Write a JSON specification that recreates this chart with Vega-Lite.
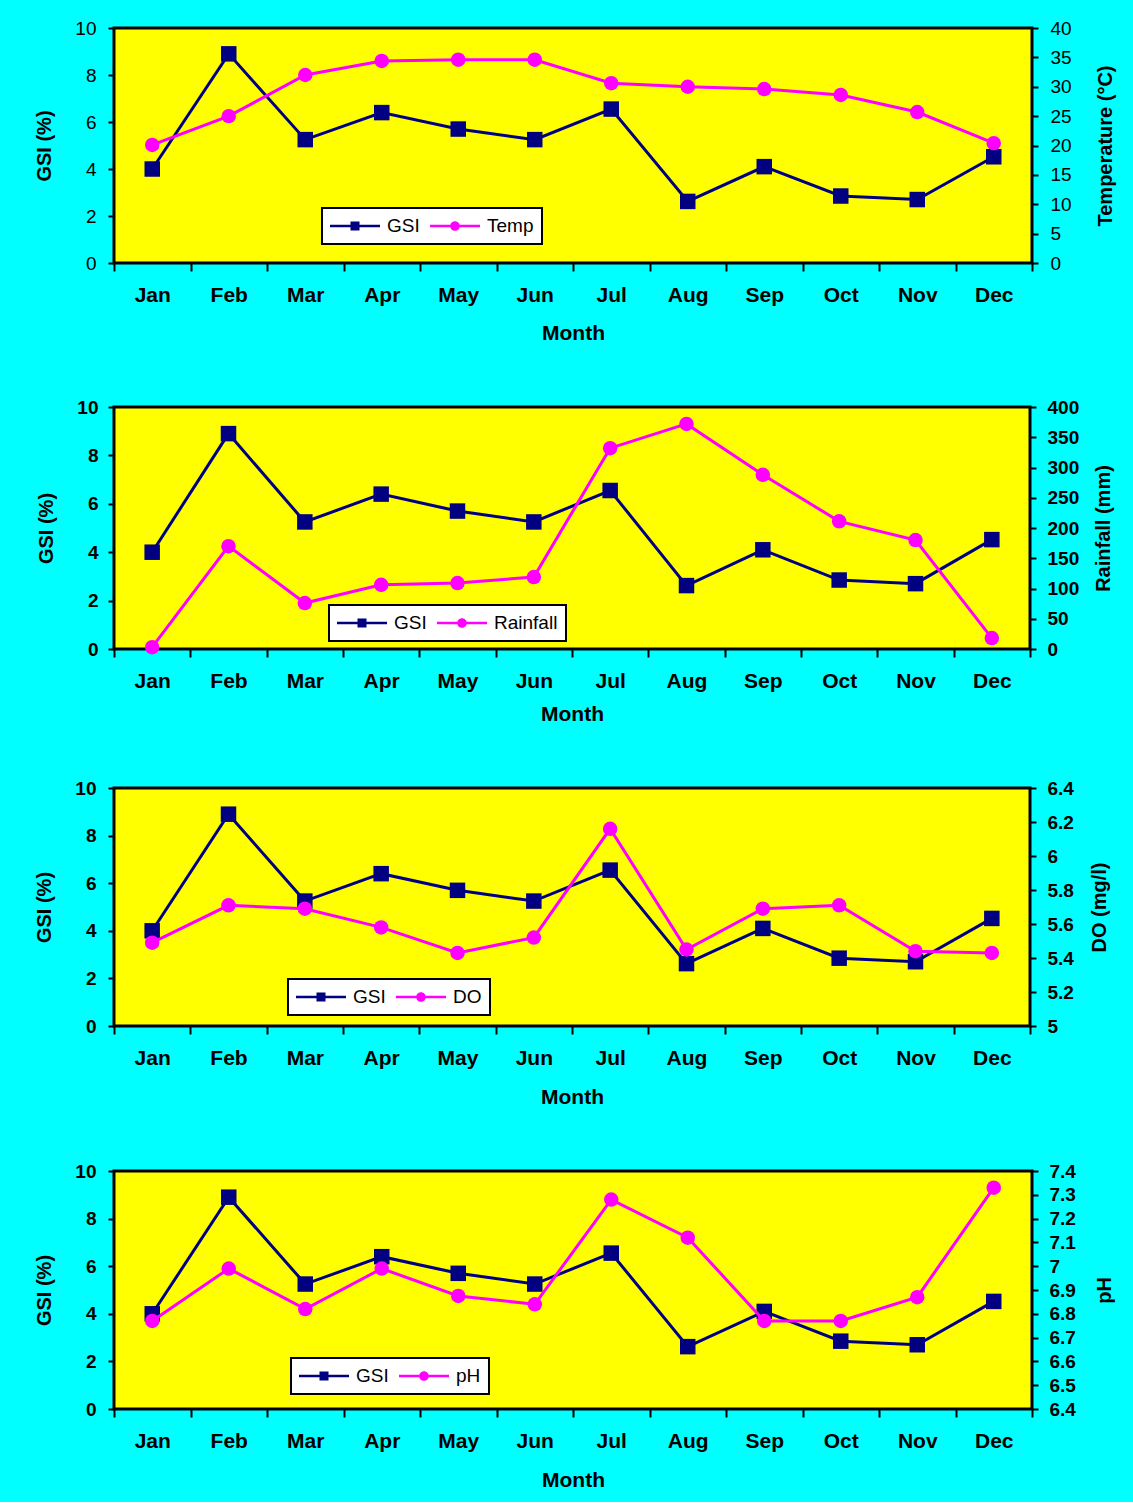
{
  "$schema": "https://vega.github.io/schema/vega-lite/v6.json",
  "background": "#00FFFF",
  "padding": {"top": 17, "left": 33, "right": 16, "bottom": 10},
  "spacing": 51,
  "resolve": {"scale": {"color": "independent"}, "legend": {"color": "independent"}},
  "datasets": {
    "d": [
      {"month": "Jan", "GSI": 4.0, "Temp": 20.1, "Rainfall": 3, "DO": 5.49, "pH": 6.77},
      {"month": "Feb", "GSI": 8.9, "Temp": 25.0, "Rainfall": 170, "DO": 5.71, "pH": 6.99},
      {"month": "Mar", "GSI": 5.25, "Temp": 32.0, "Rainfall": 76, "DO": 5.69, "pH": 6.82},
      {"month": "Apr", "GSI": 6.4, "Temp": 34.4, "Rainfall": 106, "DO": 5.58, "pH": 6.99},
      {"month": "May", "GSI": 5.7, "Temp": 34.6, "Rainfall": 109, "DO": 5.43, "pH": 6.875},
      {"month": "Jun", "GSI": 5.25, "Temp": 34.6, "Rainfall": 119, "DO": 5.52, "pH": 6.84},
      {"month": "Jul", "GSI": 6.55, "Temp": 30.6, "Rainfall": 332, "DO": 6.16, "pH": 7.28},
      {"month": "Aug", "GSI": 2.62, "Temp": 30.0, "Rainfall": 372, "DO": 5.45, "pH": 7.12},
      {"month": "Sep", "GSI": 4.1, "Temp": 29.6, "Rainfall": 288, "DO": 5.69, "pH": 6.77},
      {"month": "Oct", "GSI": 2.85, "Temp": 28.6, "Rainfall": 211, "DO": 5.71, "pH": 6.77},
      {"month": "Nov", "GSI": 2.7, "Temp": 25.7, "Rainfall": 180, "DO": 5.44, "pH": 6.87},
      {"month": "Dec", "GSI": 4.52, "Temp": 20.4, "Rainfall": 18, "DO": 5.43, "pH": 7.33}
    ]
  },
  "data": {"name": "d"},
  "config": {
    "view": {"fill": "#FFFF00", "stroke": "black", "strokeWidth": 3},
    "axis": {
      "domain": false, "grid": false,
      "labelFont": "Liberation Sans", "labelColor": "black", "labelFontSize": 19,
      "tickColor": "black", "tickWidth": 2,
      "titleFont": "Liberation Sans", "titleFontWeight": "bold", "titleFontSize": 20, "titleColor": "black"
    },
    "axisX": {"labelFontWeight": "bold", "labelFontSize": 21, "tickSize": 8, "labelPadding": 13, "titleFontSize": 21, "labelAngle": 0},
    "axisY": {"tickSize": 6},
    "legend": {
      "orient": "none", "direction": "horizontal", "fillColor": "white", "strokeColor": "black",
      "padding": 8, "labelFont": "Liberation Sans", "labelFontSize": 19, "labelColor": "black",
      "labelOffset": 37, "columnPadding": 10, "symbolSize": 400, "symbolStrokeWidth": 0
    }
  },
  "vconcat": [
    {
      "width": 918, "height": 235,
      "layer": [
        {
          "mark": {"type": "line", "strokeWidth": 3, "point": {"shape": "square", "filled": true, "size": 240, "opacity": 1}},
          "encoding": {
            "x": {"field": "month", "type": "ordinal", "sort": ["Jan","Feb","Mar","Apr","May","Jun","Jul","Aug","Sep","Oct","Nov","Dec"], "scale": {"type": "band", "paddingInner": 0, "paddingOuter": 0}, "axis": {"title": "Month", "tickBand": "extent", "titlePadding": 17}},
            "y": {"field": "GSI", "type": "quantitative", "scale": {"domain": [0, 10], "nice": false}, "axis": {"title": "GSI (%)", "values": [0,2,4,6,8,10], "labelFontWeight": "normal", "labelPadding": 12, "titlePadding": 20}},
            "color": {"datum": "GSI", "scale": {"domain": ["GSI", "Temp"], "range": ["#000080", "#FF00FF"]},
              "legend": {"title": null, "legendX": 208, "legendY": 180,
                "encode": {
                  "legend": {"update": {"strokeWidth": {"value": 2}}},
                  "symbols": {"update": {
                    "shape": {"signal": "datum.value === 'GSI' ? 'M-1,-0.12H4V0.12H-1Z M1.05,-0.45H1.95V0.45H1.05Z' : 'M-1,-0.12H4V0.12H-1Z M1.02,0A0.48,0.48 0 1,1 1.98,0A0.48,0.48 0 1,1 1.02,0Z'"},
                    "fill": {"signal": "datum.value === 'GSI' ? '#000080' : '#FF00FF'"},
                    "fillOpacity": {"value": 1}, "opacity": {"value": 1}, "strokeWidth": {"value": 0}
                  }}
                }}}
          }
        },
        {
          "mark": {"type": "line", "strokeWidth": 3, "point": {"shape": "circle", "filled": true, "size": 210, "opacity": 1}},
          "encoding": {
            "x": {"field": "month", "type": "ordinal", "sort": ["Jan","Feb","Mar","Apr","May","Jun","Jul","Aug","Sep","Oct","Nov","Dec"]},
            "y": {"field": "Temp", "type": "quantitative", "scale": {"domain": [0, 40], "nice": false}, "axis": {"orient": "right", "title": "Temperature (°C)", "titleAngle": 270, "titleBaseline": "top", "values": [0,5,10,15,20,25,30,35,40], "labelFontWeight": "normal", "labelPadding": 12, "titlePadding": 24}},
            "color": {"datum": "Temp"}
          }
        }
      ],
      "resolve": {"scale": {"y": "independent"}}
    },
    {
      "width": 916, "height": 242,
      "layer": [
        {
          "mark": {"type": "line", "strokeWidth": 3, "point": {"shape": "square", "filled": true, "size": 240, "opacity": 1}},
          "encoding": {
            "x": {"field": "month", "type": "ordinal", "sort": ["Jan","Feb","Mar","Apr","May","Jun","Jul","Aug","Sep","Oct","Nov","Dec"], "scale": {"type": "band", "paddingInner": 0, "paddingOuter": 0}, "axis": {"title": "Month", "tickBand": "extent", "titlePadding": 12}},
            "y": {"field": "GSI", "type": "quantitative", "scale": {"domain": [0, 10], "nice": false}, "axis": {"title": "GSI (%)", "values": [0,2,4,6,8,10], "labelFontWeight": "bold", "labelPadding": 10, "titlePadding": 20}},
            "color": {"datum": "GSI", "scale": {"domain": ["GSI", "Rainfall"], "range": ["#000080", "#FF00FF"]},
              "legend": {"title": null, "legendX": 215, "legendY": 198,
                "encode": {
                  "legend": {"update": {"strokeWidth": {"value": 2}}},
                  "symbols": {"update": {
                    "shape": {"signal": "datum.value === 'GSI' ? 'M-1,-0.12H4V0.12H-1Z M1.05,-0.45H1.95V0.45H1.05Z' : 'M-1,-0.12H4V0.12H-1Z M1.02,0A0.48,0.48 0 1,1 1.98,0A0.48,0.48 0 1,1 1.02,0Z'"},
                    "fill": {"signal": "datum.value === 'GSI' ? '#000080' : '#FF00FF'"},
                    "fillOpacity": {"value": 1}, "opacity": {"value": 1}, "strokeWidth": {"value": 0}
                  }}
                }}}
          }
        },
        {
          "mark": {"type": "line", "strokeWidth": 3, "point": {"shape": "circle", "filled": true, "size": 210, "opacity": 1}},
          "encoding": {
            "x": {"field": "month", "type": "ordinal", "sort": ["Jan","Feb","Mar","Apr","May","Jun","Jul","Aug","Sep","Oct","Nov","Dec"]},
            "y": {"field": "Rainfall", "type": "quantitative", "scale": {"domain": [0, 400], "nice": false}, "axis": {"orient": "right", "title": "Rainfall (mm)", "titleAngle": 270, "titleBaseline": "top", "values": [0,50,100,150,200,250,300,350,400], "labelFontWeight": "bold", "labelPadding": 11, "titlePadding": 15}},
            "color": {"datum": "Rainfall"}
          }
        }
      ],
      "resolve": {"scale": {"y": "independent"}}
    },
    {
      "width": 916, "height": 238,
      "layer": [
        {
          "mark": {"type": "line", "strokeWidth": 3, "point": {"shape": "square", "filled": true, "size": 240, "opacity": 1}},
          "encoding": {
            "x": {"field": "month", "type": "ordinal", "sort": ["Jan","Feb","Mar","Apr","May","Jun","Jul","Aug","Sep","Oct","Nov","Dec"], "scale": {"type": "band", "paddingInner": 0, "paddingOuter": 0}, "axis": {"title": "Month", "tickBand": "extent", "titlePadding": 18}},
            "y": {"field": "GSI", "type": "quantitative", "scale": {"domain": [0, 10], "nice": false}, "axis": {"title": "GSI (%)", "values": [0,2,4,6,8,10], "labelFontWeight": "bold", "labelPadding": 12, "titlePadding": 20}},
            "color": {"datum": "GSI", "scale": {"domain": ["GSI", "DO"], "range": ["#000080", "#FF00FF"]},
              "legend": {"title": null, "legendX": 174, "legendY": 191,
                "encode": {
                  "legend": {"update": {"strokeWidth": {"value": 2}}},
                  "symbols": {"update": {
                    "shape": {"signal": "datum.value === 'GSI' ? 'M-1,-0.12H4V0.12H-1Z M1.05,-0.45H1.95V0.45H1.05Z' : 'M-1,-0.12H4V0.12H-1Z M1.02,0A0.48,0.48 0 1,1 1.98,0A0.48,0.48 0 1,1 1.02,0Z'"},
                    "fill": {"signal": "datum.value === 'GSI' ? '#000080' : '#FF00FF'"},
                    "fillOpacity": {"value": 1}, "opacity": {"value": 1}, "strokeWidth": {"value": 0}
                  }}
                }}}
          }
        },
        {
          "mark": {"type": "line", "strokeWidth": 3, "point": {"shape": "circle", "filled": true, "size": 210, "opacity": 1}},
          "encoding": {
            "x": {"field": "month", "type": "ordinal", "sort": ["Jan","Feb","Mar","Apr","May","Jun","Jul","Aug","Sep","Oct","Nov","Dec"]},
            "y": {"field": "DO", "type": "quantitative", "scale": {"domain": [5, 6.4], "nice": false, "zero": false}, "axis": {"orient": "right", "title": "DO (mg/l)", "titleAngle": 270, "titleBaseline": "top", "values": [5,5.2,5.4,5.6,5.8,6,6.2,6.4], "format": "~g", "labelFontWeight": "bold", "labelPadding": 11, "titlePadding": 16}},
            "color": {"datum": "DO"}
          }
        }
      ],
      "resolve": {"scale": {"y": "independent"}}
    },
    {
      "width": 918, "height": 238,
      "layer": [
        {
          "mark": {"type": "line", "strokeWidth": 3, "point": {"shape": "square", "filled": true, "size": 240, "opacity": 1}},
          "encoding": {
            "x": {"field": "month", "type": "ordinal", "sort": ["Jan","Feb","Mar","Apr","May","Jun","Jul","Aug","Sep","Oct","Nov","Dec"], "scale": {"type": "band", "paddingInner": 0, "paddingOuter": 0}, "axis": {"title": "Month", "tickBand": "extent", "titlePadding": 18}},
            "y": {"field": "GSI", "type": "quantitative", "scale": {"domain": [0, 10], "nice": false}, "axis": {"title": "GSI (%)", "values": [0,2,4,6,8,10], "labelFontWeight": "bold", "labelPadding": 12, "titlePadding": 20}},
            "color": {"datum": "GSI", "scale": {"domain": ["GSI", "pH"], "range": ["#000080", "#FF00FF"]},
              "legend": {"title": null, "legendX": 177, "legendY": 187,
                "encode": {
                  "legend": {"update": {"strokeWidth": {"value": 2}}},
                  "symbols": {"update": {
                    "shape": {"signal": "datum.value === 'GSI' ? 'M-1,-0.12H4V0.12H-1Z M1.05,-0.45H1.95V0.45H1.05Z' : 'M-1,-0.12H4V0.12H-1Z M1.02,0A0.48,0.48 0 1,1 1.98,0A0.48,0.48 0 1,1 1.02,0Z'"},
                    "fill": {"signal": "datum.value === 'GSI' ? '#000080' : '#FF00FF'"},
                    "fillOpacity": {"value": 1}, "opacity": {"value": 1}, "strokeWidth": {"value": 0}
                  }}
                }}}
          }
        },
        {
          "mark": {"type": "line", "strokeWidth": 3, "point": {"shape": "circle", "filled": true, "size": 210, "opacity": 1}},
          "encoding": {
            "x": {"field": "month", "type": "ordinal", "sort": ["Jan","Feb","Mar","Apr","May","Jun","Jul","Aug","Sep","Oct","Nov","Dec"]},
            "y": {"field": "pH", "type": "quantitative", "scale": {"domain": [6.4, 7.4], "nice": false, "zero": false}, "axis": {"orient": "right", "title": "pH", "titleAngle": 270, "titleBaseline": "top", "values": [6.4,6.5,6.6,6.7,6.8,6.9,7,7.1,7.2,7.3,7.4], "format": "~g", "labelFontWeight": "bold", "labelPadding": 11, "titlePadding": 19}},
            "color": {"datum": "pH"}
          }
        }
      ],
      "resolve": {"scale": {"y": "independent"}}
    }
  ]
}
